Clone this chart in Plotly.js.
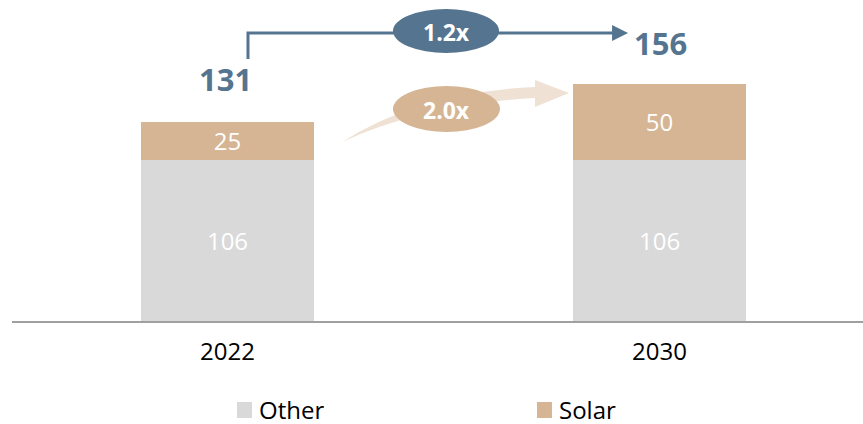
<!DOCTYPE html>
<html><head><meta charset="utf-8">
<script src="https://cdn.plot.ly/plotly-3.0.1.min.js"></script>
<style>html,body{margin:0;padding:0;background:#fff}</style>
</head><body>
<div id="chart" style="width:863px;height:424px"></div>
<script>
const years = ['2022', '2030'];
const other = [106, 106];
const solar = [25, 50];
const seriesNames = ['Other', 'Solar'];
const totals = years.map((_, i) => other[i] + solar[i]);

const W = 863, H = 424, L = 12, R = 0, T = 10, B = 103;
const pw = W - L - R, ph = H - T - B;
const px = x => ((x - L) / pw).toFixed(4);
const py = y => ((H - B - y) / ph).toFixed(4);

const grey = '#d9d9d9', blue = '#557490', beige = '#d6b594', light = '#efe2d4';
const font = 'Open Sans, Noto Sans, sans-serif';

const barText = {color: '#ffffff', size: 24, family: font};
const traces = [
  {type: 'bar', name: seriesNames[0], x: years, y: other, marker: {color: grey},
   text: other.map(String), textposition: 'inside', insidetextanchor: 'middle', textangle: 0,
   constraintext: 'none', textfont: barText, width: 0.4, hoverinfo: 'skip'},
  {type: 'bar', name: seriesNames[1], x: years, y: solar, marker: {color: beige},
   text: solar.map(String), textposition: 'inside', insidetextanchor: 'middle', textangle: 0,
   constraintext: 'none', textfont: barText, width: 0.4, hoverinfo: 'skip'}
];

const growthTotal = (totals[1] / totals[0]).toFixed(1) + 'x';
const growthSolar = (solar[1] / solar[0]).toFixed(1) + 'x';

const curved = `M${px(342)},${py(142)} Q${px(420)},${py(92)} ${px(535)},${py(87)} L${px(535)},${py(80)} L${px(569)},${py(93)} L${px(535)},${py(107)} L${px(535)},${py(98)} Q${px(425)},${py(104)} ${px(342)},${py(142)} Z`;

const shapes = [
  {type: 'path', xref: 'paper', yref: 'paper', path: curved, fillcolor: light, line: {width: 0}},
  {type: 'path', xref: 'paper', yref: 'paper',
   path: `M${px(248)},${py(59)} L${px(248)},${py(33)} L${px(614)},${py(33)}`,
   line: {color: blue, width: 3}},
  {type: 'path', xref: 'paper', yref: 'paper',
   path: `M${px(612)},${py(25)} L${px(628)},${py(33)} L${px(612)},${py(41)} Z`,
   fillcolor: blue, line: {width: 0}},
  {type: 'circle', xref: 'paper', yref: 'paper', x0: px(393), x1: px(499), y0: py(53), y1: py(9),
   fillcolor: blue, line: {width: 0}},
  {type: 'circle', xref: 'paper', yref: 'paper', x0: px(393), x1: px(500), y0: py(132), y1: py(86),
   fillcolor: beige, line: {width: 0}},
  {type: 'rect', xref: 'paper', yref: 'paper', x0: px(237), x1: px(252), y0: py(418), y1: py(402),
   fillcolor: grey, line: {width: 0}},
  {type: 'rect', xref: 'paper', yref: 'paper', x0: px(537), x1: px(552), y0: py(418), y1: py(402),
   fillcolor: beige, line: {width: 0}}
];

const annotations = [
  {xref: 'x', yref: 'y', x: 0, y: totals[0], yanchor: 'bottom', yshift: 20, showarrow: false,
   text: '<b>' + totals[0] + '</b>', font: {size: 31, color: blue, family: font}, xshift: -2},
  {xref: 'x', yref: 'y', x: 1, y: totals[1], yanchor: 'bottom', yshift: 18, showarrow: false,
   text: '<b>' + totals[1] + '</b>', font: {size: 31, color: blue, family: font}, xshift: 1},
  {xref: 'paper', yref: 'paper', x: px(446), y: py(32), xanchor: 'center', yanchor: 'middle', showarrow: false,
   text: '<b>' + growthTotal + '</b>', font: {size: 23, color: '#ffffff', family: font}},
  {xref: 'paper', yref: 'paper', x: px(446), y: py(110), xanchor: 'center', yanchor: 'middle', showarrow: false,
   text: '<b>' + growthSolar + '</b>', font: {size: 23, color: '#ffffff', family: font}},
  {xref: 'paper', yref: 'paper', x: px(257), y: py(409), xanchor: 'left', yanchor: 'middle', showarrow: false,
   height: 24, text: seriesNames[0], font: {size: 24, color: '#000', family: font}},
  {xref: 'paper', yref: 'paper', x: px(557), y: py(409), xanchor: 'left', yanchor: 'middle', showarrow: false,
   height: 24, text: seriesNames[1], font: {size: 24, color: '#000', family: font}}
];

const layout = {
  width: W, height: H,
  margin: {l: L, r: R, t: T, b: B},
  paper_bgcolor: '#ffffff', plot_bgcolor: '#ffffff',
  barmode: 'stack',
  font: {family: font, color: '#000000'},
  showlegend: false,
  xaxis: {type: 'category', range: [-0.4988, 1.471], showline: true, linecolor: '#a0a0a0', linewidth: 2,
          showgrid: false, zeroline: false, ticks: '', tickfont: {size: 24, family: font, color: '#000'},
          ticklabelstandoff: 8, fixedrange: true},
  yaxis: {range: [0, 204.6], showticklabels: false, showline: false, ticks: '', showgrid: false,
          zeroline: false, fixedrange: true},
  shapes: shapes,
  annotations: annotations
};

Plotly.newPlot('chart', traces, layout, {displayModeBar: false, staticPlot: true});
</script>
</body></html>
